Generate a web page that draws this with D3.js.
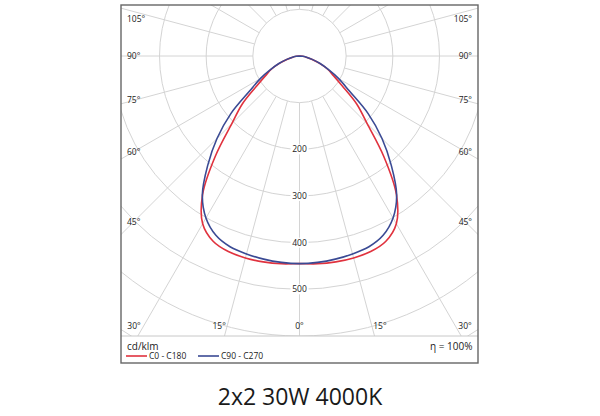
<!DOCTYPE html>
<html><head><meta charset="utf-8">
<script src="https://cdn.jsdelivr.net/npm/d3@7"></script>
<style>body{margin:0;background:#fff}svg{display:block}</style>
</head><body><svg id="c" width="600" height="416"></svg>
<script>
// ---- data ----
const gammaAngles = [0,5,10,15,20,25,30,35,40,45,50,55,60,65,70,75,80,85,90];
const seriesC0C180 = [445,447,448,448,446,438,415,362,281,205,160,112,84,66,45,27,15,7,0];
const seriesC90C270 = [445,444,442,439,435,424,401,363,306,250,192,130,97,68,47,28,15,7,0];
const seriesNames = ["C0 - C180","C90 - C270"];
const seriesColors = ["#e0323e","#3a4a94"];
const ringValues = [100,200,300,400,500,600,700,800,900];
const ringLabelValues = [200,300,400,500];
const spokeAngles = [0,15,30,45,60,75,90,105,120,135,150,165,180,195,210,225,240,255,270,285,300,315,330,345];
const sideLabelAngles = [45,60,75,90,105];
const bottomLabelAngles = [-30,-15,0,15,30];
const unitLabel = "cd/klm";
const effLabel = "η = 100%";
const title = "2x2 30W 4000K";

// ---- layout ----
const svg = d3.select("#c");
const F = {x0:121, y0:5, x1:478, y1:363, sep:336};
const cx = 299.5, cy = 56;
const r = d3.scaleLinear().domain([0,600]).range([0,280]);
const rad = d => d*Math.PI/180;
const px = (a,v) => cx + r(v)*Math.sin(rad(a));
const py = (a,v) => cy + r(v)*Math.cos(rad(a));
const font = "'Open Sans', 'DejaVu Sans', sans-serif";

svg.append("defs").append("clipPath").attr("id","plot")
  .append("rect").attr("x",F.x0).attr("y",F.y0).attr("width",F.x1-F.x0).attr("height",F.sep-F.y0);

const g = svg.append("g").attr("clip-path","url(#plot)");
const grid = "#d4d4d4";
// spokes
g.selectAll("line.spoke").data(spokeAngles).join("line")
  .attr("x1",a=>px(a,ringValues[0])).attr("y1",a=>py(a,ringValues[0]))
  .attr("x2",a=>px(a,1500)).attr("y2",a=>py(a,1500))
  .attr("stroke",grid).attr("stroke-width",1);
// rings
g.selectAll("circle.ring").data(ringValues).join("circle")
  .attr("cx",cx).attr("cy",cy).attr("r",v=>r(v))
  .attr("fill","none").attr("stroke",grid).attr("stroke-width",1);

// ring labels with white background
const rl = g.selectAll("g.rl").data(ringLabelValues).join("g")
  .attr("transform",v=>`translate(${cx},${cy+r(v)})`);
rl.append("rect").attr("x",-9).attr("y",-5).attr("width",18).attr("height",10).attr("fill","#fff");
rl.append("text").text(v=>v).attr("text-anchor","middle").attr("dy","0.35em")
  .attr("font-family",font).attr("font-size",8.5).attr("fill","#222");

// curves
const full = vals => {
  const pts = [];
  for (let i = gammaAngles.length-1; i >= 0; i--) pts.push([-gammaAngles[i], vals[i]]);
  for (let i = 1; i < gammaAngles.length; i++) pts.push([gammaAngles[i], vals[i]]);
  return pts;
};
const line = d3.line().x(d=>px(d[0],d[1])).y(d=>py(d[0],d[1])).curve(d3.curveCatmullRom.alpha(0.5));
[seriesC0C180, seriesC90C270].forEach((vals,i)=>{
  g.append("path").attr("d",line(full(vals))).attr("fill","none")
    .attr("stroke",seriesColors[i]).attr("stroke-width",1.6).attr("stroke-linejoin","round");
});

// angle labels on sides
const lab = {family:font, size:8.5, fill:"#222"};
sideLabelAngles.forEach(a=>{
  const d = 166;
  let y = cy + d*Math.cos(rad(a))/Math.sin(rad(a));
  y = Math.max(y, 19);
  [[F.x0+6,"start"],[F.x1-6,"end"]].forEach(([x,anc])=>{
    svg.append("text").text(a+"°").attr("x",x).attr("y",y).attr("dy","0.35em")
      .attr("text-anchor",anc).attr("font-family",lab.family).attr("font-size",lab.size).attr("fill",lab.fill);
  });
});
bottomLabelAngles.forEach(a=>{
  const x = cx + 275*Math.tan(rad(a));
  const anc = a<0 ? "end" : a>0 ? "start" : "middle";
  svg.append("text").text(Math.abs(a)+"°").attr("x",x).attr("y",326).attr("dy","0.35em")
    .attr("text-anchor",anc).attr("font-family",lab.family).attr("font-size",lab.size).attr("fill",lab.fill);
});

// separator and frame
svg.append("line").attr("x1",F.x0).attr("x2",F.x1).attr("y1",F.sep).attr("y2",F.sep)
  .attr("stroke","#c8c8c8").attr("stroke-width",1);
svg.append("rect").attr("x",F.x0).attr("y",F.y0).attr("width",F.x1-F.x0).attr("height",F.y1-F.y0)
  .attr("fill","none").attr("stroke","#666").attr("stroke-width",1.4);

// legend
svg.append("text").text(unitLabel).attr("x",127).attr("y",349.5)
  .attr("font-family",font).attr("font-size",10).attr("fill","#222");
svg.append("text").text(effLabel).attr("x",472.5).attr("y",349.5).attr("text-anchor","end")
  .attr("font-family",font).attr("font-size",10).attr("fill","#222");
const legX = [126,198];
seriesNames.forEach((n,i)=>{
  svg.append("line").attr("x1",legX[i]).attr("x2",legX[i]+21).attr("y1",356).attr("y2",356)
    .attr("stroke",seriesColors[i]).attr("stroke-width",1.6);
  svg.append("text").text(n).attr("x",legX[i]+23).attr("y",359)
    .attr("font-family",font).attr("font-size",8.5).attr("fill","#222");
});

// title
svg.append("text").text(title).attr("x",300).attr("y",405).attr("text-anchor","middle")
  .attr("font-family",font).attr("font-size",23).attr("fill","#1a1a1a");
</script></body></html>
